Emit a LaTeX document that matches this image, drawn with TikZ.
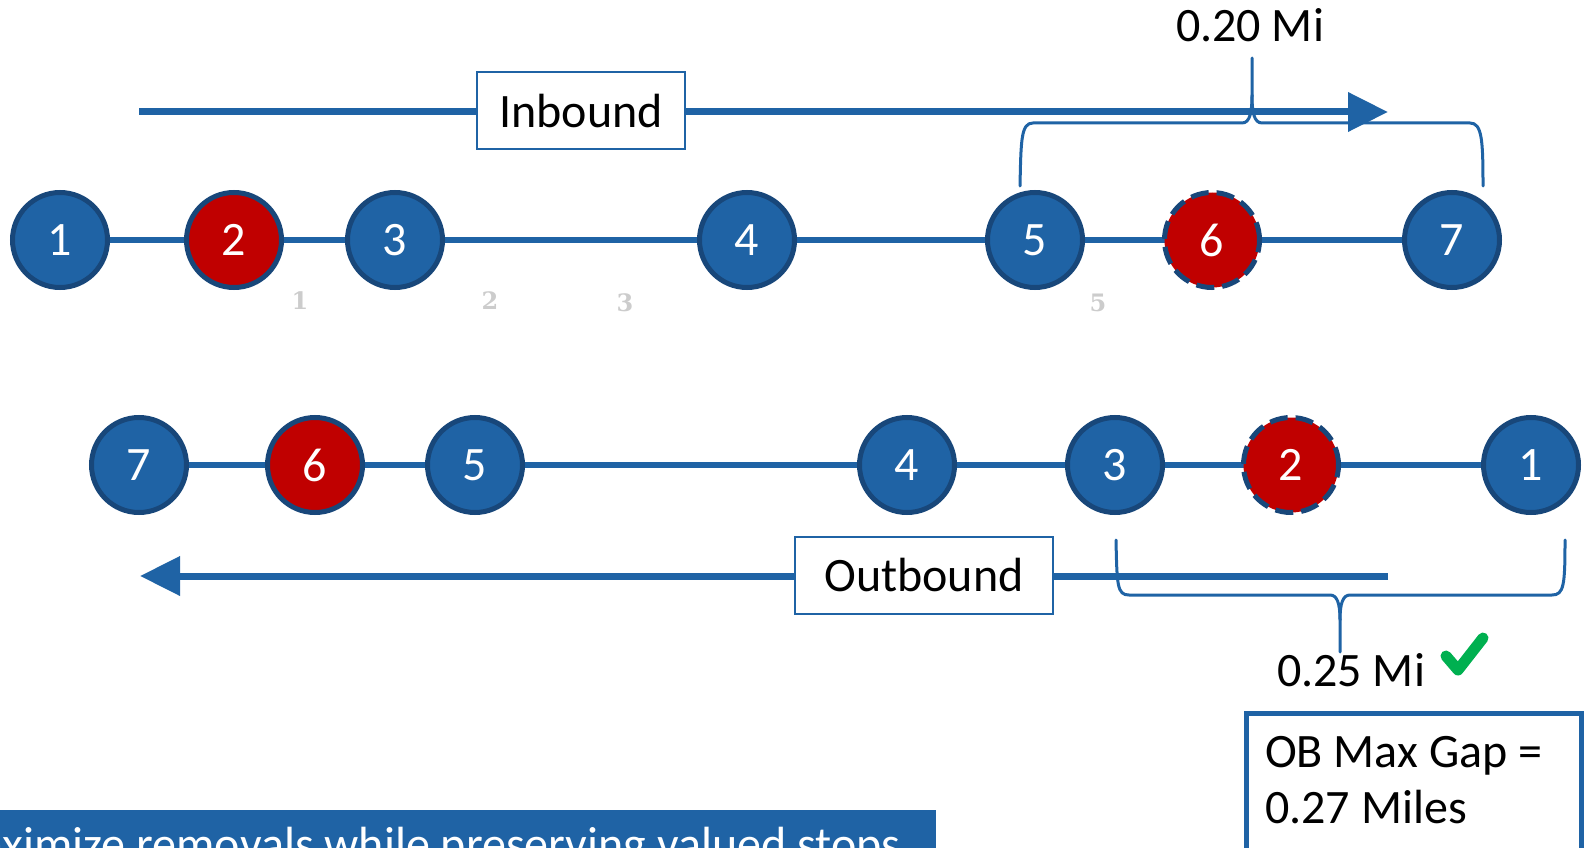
\documentclass[tikz,border=0pt]{standalone}
\usepackage{fontspec}
\setmainfont{Carlito}
\newfontfamily\ghostfont{DejaVu Serif}
\usetikzlibrary{arrows.meta,positioning,backgrounds}
\definecolor{stopblue}{RGB}{31,99,165}
\definecolor{rimblue}{RGB}{24,71,122}
\definecolor{keepred}{RGB}{192,0,0}
\definecolor{tickgreen}{RGB}{0,176,80}
\newcommand{\bigtxt}{\fontsize{48}{56}\selectfont}

\begin{document}
\begin{tikzpicture}[x=1pt,y=-1pt,
	stopnode/.style={circle, draw=rimblue, line width=5pt, fill=stopblue, text=white, minimum size=95pt, inner sep=0pt, font=\bigtxt},
	valued/.style={stopnode, fill=keepred},
	removed/.style={valued, dash pattern=on 18pt off 8pt},
	link/.style={stopblue, line width=6pt},
	flow/.style={stopblue, line width=7pt, -{Triangle[length=40pt,width=38pt]}},
	dirbox/.style={draw=stopblue, line width=2pt, fill=white, minimum height=77pt, inner sep=0pt, font=\bigtxt},
	brace/.style={stopblue, line width=3pt, line cap=round},
	ghost/.style={text=gray!40, font=\ghostfont\bfseries\fontsize{24}{24}\selectfont}]
	\useasboundingbox (0,0) rectangle (1591,848);
	\clip (0,0) rectangle (1591,848);

	% inbound run
	\node[stopnode] (i1) at (60,240) {1};
	\node[valued] (i2) at (234,240) {2};
	\node[stopnode] (i3) at (395,240) {3};
	\node[stopnode] (i4) at (747,240) {4};
	\node[stopnode] (i5) at (1035,240) {5};
	\node[removed] (i6) at (1212,240) {6};
	\node[stopnode] (i7) at (1452,240) {7};

	% outbound run
	\node[stopnode] (o7) at (139,465) {7};
	\node[valued] (o6) at (315,465) {6};
	\node[stopnode] (o5) at (475,465) {5};
	\node[stopnode] (o4) at (907,465) {4};
	\node[stopnode] (o3) at (1115,465) {3};
	\node[removed] (o2) at (1291,465) {2};
	\node[stopnode] (o1) at (1531,465) {1};

	\begin{scope}[on background layer]
		\foreach \a/\b in {1/2,2/3,3/4,4/5,5/6,6/7} {
			\draw[link] (i\a.center) -- (i\b.center);
			\draw[link] (o\a.center) -- (o\b.center);
		}
	\end{scope}

	% faint numbers
	\node[ghost] (g1) at (300,301) {1};
	\node[ghost] (g2) at (490,301) {2};
	\node[ghost] (g3) at (625,303) {3};
	\node[ghost] (g5) at (1098,303) {5};

	% direction arrows
	\coordinate (inTail) at (139,112);
	\coordinate (inHead) at (1388,112);
	\draw[flow] (inTail) -- (inHead);
	\node[dirbox, minimum width=208pt] (inbox) at (581,111) {Inbound};

	\coordinate (outTail) at (1388,576);
	\coordinate (outHead) at (140,576);
	\draw[flow] (outTail) -- (outHead);
	\node[dirbox, minimum width=258pt] (outbox) at (924,575.5) {Outbound};

	% gap braces
	\draw[brace] (1020,186) .. controls (1021,140) and (1021,123) .. (1033,123) -- (1242,123)
		.. controls (1250,123) and (1252,112) .. (1252,95) -- (1252,58);
	\draw[brace] (1252,95) .. controls (1252,112) and (1254,123) .. (1262,123) -- (1470,123)
		.. controls (1482,123) and (1483,140) .. (1483,186);
	\node[font=\bigtxt, anchor=base, inner sep=0pt] (gapin) at (1250,42) {0.20 Mi};

	\draw[brace] (1116,540) .. controls (1117,585) and (1117,595) .. (1129,595) -- (1330,595)
		.. controls (1337,595) and (1340,603) .. (1340,620) -- (1340,652);
	\draw[brace] (1340,620) .. controls (1340,603) and (1343,595) .. (1350,595) -- (1552,595)
		.. controls (1564,595) and (1565,585) .. (1565,540);
	\node[font=\bigtxt, anchor=base, inner sep=0pt] (gapout) at (1351,686) {0.25 Mi};
	\draw[tickgreen, line width=11pt, line cap=round, line join=round] (1446,656) -- (1458,670) -- (1483,638);

	% max gap box
	\draw[stopblue, line width=5pt] (1246,860) -- (1246,713) -- (1581,713) -- (1581,860);
	\node[font=\bigtxt, align=left, anchor=north west, inner sep=0pt] (maxgap) at (1265,736) {OB Max Gap =\\0.27 Miles};

	% caption band
	\fill[stopblue] (-5,810) rectangle (936,870);
	\node[font=\bigtxt, text=white, anchor=base west, inner sep=0pt] (caption) at (-61,860) {Maximize removals while preserving valued stops};
\end{tikzpicture}
\end{document}
